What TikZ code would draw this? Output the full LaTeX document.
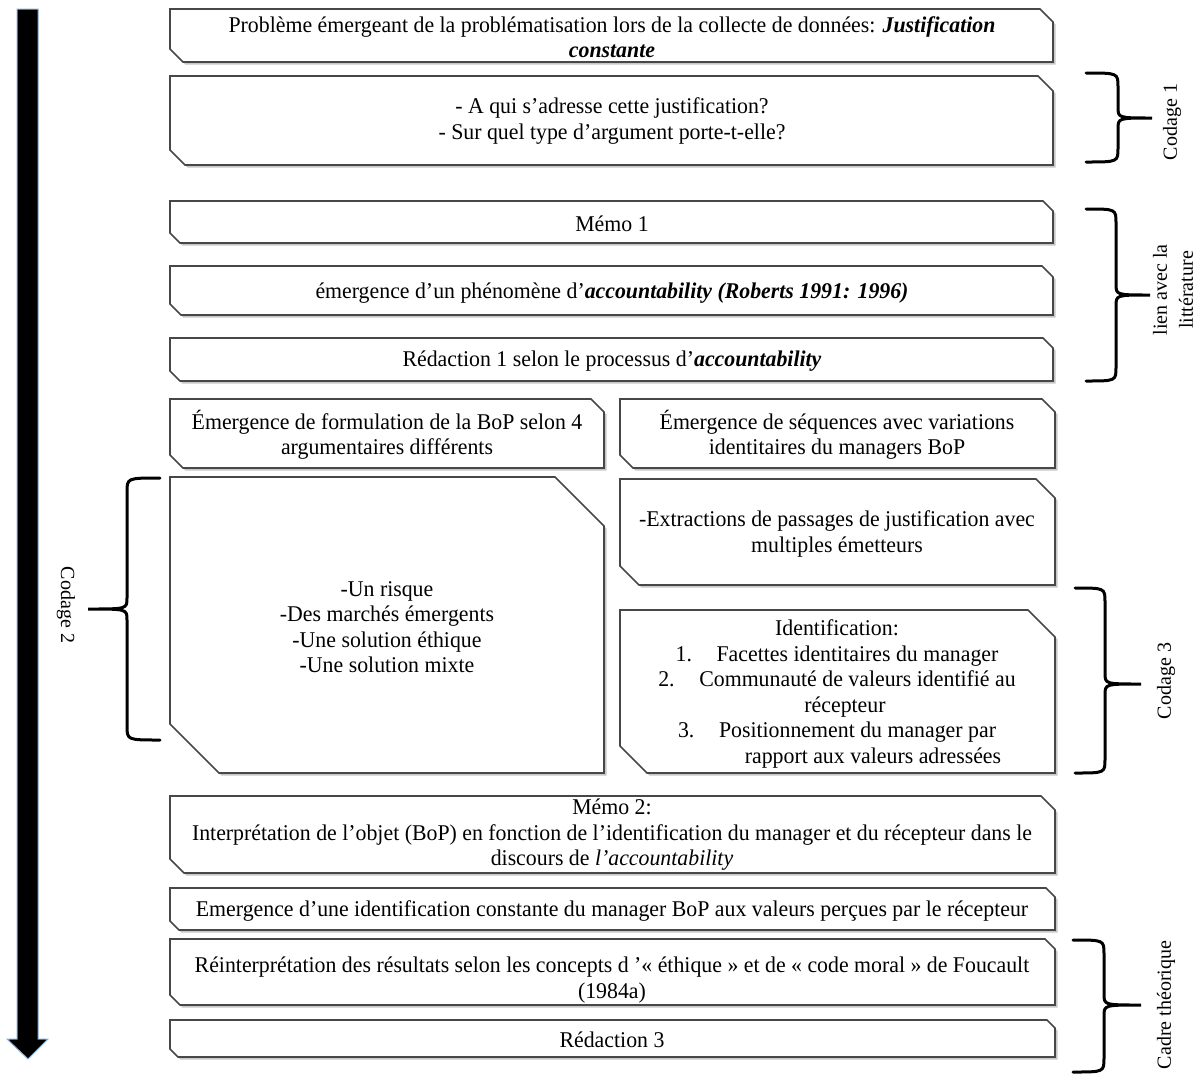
\documentclass[tikz,border=0pt]{standalone}
\usepackage{fontspec}
\setmainfont[FakeStretch=0.97]{Liberation Serif}
\newfontfamily\lblfont{Liberation Serif}
\newcommand\cbpath[5]{(#1,#2) -- ({#3-#5},#2) -- (#3,{#2+#5}) -- (#3,#4) -- ({#1+#5},#4) -- (#1,{#4-#5}) -- cycle}
\newcommand\cutbox[5]{%
  \fill[boxshadow] \cbpath{#1}{#2}{#3}{#4}{#5};
  \draw[boxline] \cbpath{#1}{#2}{#3}{#4}{#5};}
% brace: ends x, spine x, tip x, y1, ym, y2
\newcommand\mybrace[6]{%
  \draw[bracepath] (#1,#4) .. controls (#2,#4) .. (#2,{#4+14}) -- (#2,{#5-11})
    .. controls (#2,#5) .. (#3,#5) .. controls (#2,#5) .. (#2,{#5+11})
    -- (#2,{#6-14}) .. controls (#2,#6) .. (#1,#6);}
\newcommand\numitem[1]{\makebox[41pt][l]{#1}}
\tikzset{
  boxline/.style={draw=black!72, line width=1.6pt, fill=white, line join=miter},
  boxshadow/.style={fill=black!22, shift={(2.5,2.5)}},
  txt/.style={align=center, inner sep=0pt, font=\fontsize{22.5}{25.5}\selectfont},
  lbl/.style={align=center, inner sep=0pt, font=\lblfont\fontsize{20}{26}\selectfont},
  bracepath/.style={draw=black, line width=3pt, line cap=round},
}
\begin{document}
\begin{tikzpicture}[x=1pt,y=-1pt]
\useasboundingbox (0,0) rectangle (1204,1077);
\fill[white] (0,0) rectangle (1204,1077);

% big arrow
\filldraw[fill=black, draw={rgb,255:red,140;green,175;blue,215}, line width=1pt]
  (17,9) -- (38,9) -- (38,1039) -- (48,1039) -- (28,1059) -- (7,1039) -- (17,1039) -- cycle;

% boxes
\cutbox{170}{9}{1053}{62}{13}
\cutbox{170}{76}{1053}{165}{15}
\cutbox{170}{201}{1053}{243}{10}
\cutbox{170}{266}{1053}{315}{11}
\cutbox{170}{338}{1053}{381}{10}
\cutbox{170}{399}{604}{468}{13}
\cutbox{620}{399}{1055}{468}{13}
\cutbox{170}{477}{604}{773}{49}
\cutbox{620}{479}{1055}{585}{19}
\cutbox{620}{610}{1055}{773}{27}
\cutbox{170}{796}{1055}{873}{14}
\cutbox{170}{888}{1055}{930}{9}
\cutbox{170}{939}{1055}{1005}{10}
\cutbox{170}{1020}{1055}{1057}{8}

% texts
\node[txt] (a) at (612,37) {Problème émergeant de la problématisation lors de la collecte de données: \textbf{\textit{Justification}}\\\textbf{\textit{constante}}};
\node[txt] (b) at (612,121) {- A qui s’adresse cette justification?\\- Sur quel type d’argument porte-t-elle?};
\node[txt] (c) at (612,224) {Mémo 1};
\node[txt] (d) at (612,293) {émergence d’un phénomène d’\textbf{\textit{accountability (Roberts 1991: 1996)}}};
\node[txt] (e) at (612,361) {Rédaction 1 selon le processus d’\textbf{\textit{accountability}}};
\node[txt] (f) at (387,435) {Émergence de formulation de la BoP selon 4\\argumentaires différents};
\node[txt] (g) at (837,435) {Émergence de séquences avec variations\\identitaires du managers BoP};
\node[txt] (h) at (387,627) {-Un risque\\-Des marchés émergents\\-Une solution éthique\\-Une solution mixte};
\node[txt] (i) at (837,534) {-Extractions de passages de justification avec\\multiples émetteurs};
\node[txt] (j) at (837,694) {Identification:\\\numitem{1.}Facettes identitaires du manager\\\numitem{2.}Communauté de valeurs identifié au\\\hspace*{16pt}récepteur\\\numitem{3.}Positionnement du manager par\\\hspace*{72pt}rapport aux valeurs adressées};
\node[txt] (k) at (612,835) {Mémo 2:\\Interprétation de l’objet (BoP) en fonction de l’identification du manager et du récepteur dans le\\discours de \textit{l’accountability}};
\node[txt] (l) at (612,911) {Emergence d’une identification constante du manager BoP aux valeurs perçues par le récepteur};
\node[txt] (m) at (612,980) {Réinterprétation des résultats selon les concepts d ’«~éthique~» et de «~code moral~» de Foucault\\(1984a)};
\node[txt] (n) at (612,1040) {Rédaction 3};

% braces
\mybrace{1086}{1118}{1152}{73}{118}{162}
\mybrace{1086}{1116}{1150}{209}{295}{381}
\mybrace{1075}{1105}{1141}{588}{684}{773}
\mybrace{1073}{1104}{1141}{940}{1005}{1072}
\mybrace{160}{127}{88}{478}{609}{740}

% labels
\node[lbl, rotate=90] (l1) at (1172,122) {Codage 1};
\node[lbl, rotate=90] (l2) at (1173,290) {lien avec la\\littérature};
\node[lbl, rotate=90] (l3) at (1166,681) {Codage 3};
\node[lbl, rotate=90] (l4) at (1166,1005) {Cadre théorique};
\node[lbl, rotate=-90] (l5) at (66,605) {Codage 2};
\end{tikzpicture}
\end{document}
